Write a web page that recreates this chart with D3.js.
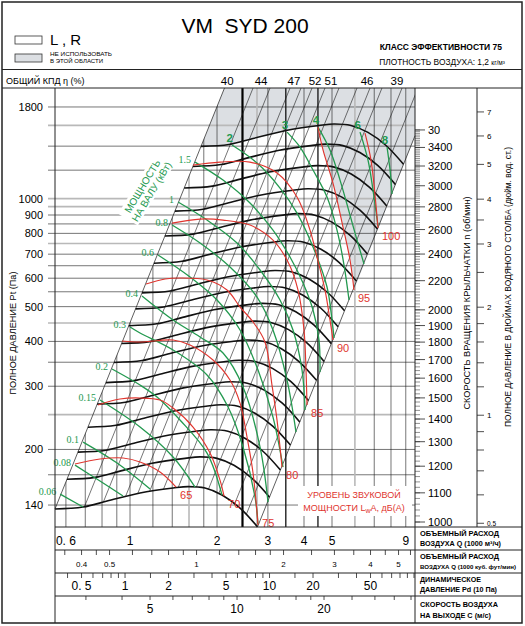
<!DOCTYPE html>
<html>
<head>
<meta charset="utf-8">
<script src="https://cdn.jsdelivr.net/npm/d3@7"></script>
<style>
  body { margin: 0; background: #fff; }
  text { font-family: "Liberation Sans", Arial, sans-serif; }
</style>
</head>
<body>
<svg id="vis" width="525" height="626"></svg>
<script>
// ---- data ----
// flow Q in 1000 m3/h, total pressure Pt in Pa
const pressureLabels = [1800, 1000, 900, 800, 700, 600, 500, 400, 300, 200, 140];
const pressureGrid = [1800, 1400, 1200, 900, 850, 800, 700, 650, 600, 550, 500, 400, 350, 300, 200, 170, 140];
const pressureGridLight = [1600, 1000, 950, 750, 450, 250];
const flowGrid = [0.6, 0.7, 0.8, 0.9, 1, 1.2, 1.4, 1.8, 2, 3, 4, 5, 7, 8, 9];
const flowGridLight = [1.6, 2.75, 6];
const flowGridBold = [2.45];
const flowGridMedium = [3.46, 4.47];

// fan curve at 1000 rpm
const fanCurve1000 = [[0.550, 136.5], [0.688, 138.2], [0.833, 143.6], [1.083, 151.2], [1.409, 156.1],
  [1.587, 157.6], [1.818, 156.1], [2.081, 149.3], [2.403, 137.3], [2.762, 121.7]];
const rpmCurves = [1000, 1100, 1200, 1300, 1400, 1500, 1600, 1700, 1800, 1900, 2000, 2200, 2400, 2600, 2800, 3000, 3200];

// system lines, flow at 1000 Pa
const systemLinesQ = [1.869, 2.140, 2.509, 2.739, 2.990, 3.316, 3.708, 4.280, 4.746, 5.222, 6.127, 6.957];

// efficiency % along the top
const effValues = [40, 44, 47, 52, 51, 46, 39];
const effQ = [2.17, 2.84, 3.69, 4.37, 4.96, 6.61, 8.39];

// shaft power lines, kW
const powerNames = ["0.06", "0.08", "0.1", "0.15", "0.2", "0.3", "0.4", "0.6", "0.8", "1", "1.5", "2", "3", "4", "6", "8"];
const powerLines = [
  [[0.573, 150.2], [0.688, 138.2]],
  [[0.645, 180.9], [0.787, 163.3], [0.946, 148.3]],
  [[0.688, 209.7], [0.902, 183.3], [1.173, 155.1]],
  [[0.787, 274.6], [1.083, 230.9], [1.409, 190.5], [1.679, 157.1]],
  [[0.866, 335.0], [1.083, 302.3], [1.240, 280.0], [1.489, 241.5], [1.847, 195.4], [2.081, 149.3]],
  [[1.000, 438.7], [1.083, 422.2], [1.409, 378.5], [1.847, 322.4], [2.184, 262.5], [2.460, 203.1], [2.707, 147.4], [2.773, 124.0]],
  [[1.100, 535.2], [1.409, 458.8], [1.747, 411.5], [2.098, 371.2], [2.460, 298.5], [2.818, 203.1], [3.003, 142.7]],
  [[1.250, 696.3], [1.613, 604.6], [2.000, 521.6], [2.403, 430.4], [2.773, 332.9], [3.124, 246.2], [3.384, 178.6]],
  [[1.398, 843.8], [1.747, 751.7], [2.218, 644.7], [2.751, 531.7], [3.124, 430.4], [3.494, 312.2], [3.753, 223.6]],
  [[1.466, 978.1], [1.847, 871.3], [2.346, 751.7], [2.818, 632.4], [3.304, 521.6], [3.664, 430.4], [3.937, 332.9], [4.033, 257.5]],
  [[1.679, 1264], [2.098, 1126], [2.601, 971.7], [3.124, 817.1], [3.578, 687.4], [3.969, 581.8], [4.298, 489.2], [4.508, 403.6], [4.544, 328.6]],
  [[2.254, 1410], [2.751, 1256], [3.304, 1070], [3.783, 911.3], [4.298, 733.0], [4.805, 567.0], [5.000, 458.8], [5.080, 408.8]],
  [[3.494, 1532], [3.875, 1392], [4.298, 1201], [4.805, 1010], [5.203, 817.1], [5.502, 653.0], [5.726, 521.6]],
  [[4.473, 1582], [4.920, 1366], [5.330, 1126], [5.771, 899.7], [6.103, 766.3], [6.452, 657.2]],
  [[6.250, 1532], [6.661, 1280], [6.931, 1056], [7.213, 838.4]],
  [[7.752, 1392], [7.940, 1201], [8.067, 1030]]
];

// sound power lines, dB(A)
const soundNames = ["65", "70", "75", "80", "85", "90", "95", "100"];
const soundLines = [
  [[0.645, 182.1], [0.787, 188.1], [0.946, 189.3], [1.083, 184.5], [1.270, 173.0], [1.443, 157.1]],
  [[0.775, 265.9], [0.923, 276.4], [1.083, 278.2], [1.270, 274.6], [1.409, 260.8], [1.652, 230.9], [1.892, 195.4], [2.048, 164.3], [2.115, 148.3]],
  [[0.938, 401.0], [1.083, 398.4], [1.409, 403.6], [1.613, 390.8], [1.937, 354.9], [2.218, 312.2], [2.403, 269.3], [2.540, 216.6], [2.665, 171.9], [2.773, 123.2]],
  [[1.136, 578.0], [1.322, 596.9], [1.489, 600.7], [1.847, 593.1], [2.166, 556.2], [2.403, 498.6], [2.665, 453.0], [2.931, 398.4], [3.099, 302.3], [3.226, 241.5], [3.357, 178.6]],
  [[1.398, 854.7], [1.747, 876.9], [2.098, 871.3], [2.601, 843.8], [3.124, 766.3], [3.522, 665.7], [3.814, 556.2], [4.000, 430.4], [4.064, 332.9], [4.097, 265.9]],
  [[1.652, 1240], [2.048, 1264], [2.601, 1264], [3.226, 1178], [3.783, 1010], [4.196, 817.1], [4.437, 687.4], [4.729, 556.2], [4.920, 458.8], [5.039, 403.6]],
  [[4.473, 1582], [4.654, 1366], [5.039, 1105], [5.458, 833.0], [5.771, 674.4], [5.958, 556.2]],
  [[6.503, 1522], [6.822, 1280], [7.043, 1023], [7.213, 827.7]]
];

// side and bottom scales
const rpmLabels = [1000, 1100, 1200, 1300, 1400, 1500, 1600, 1700, 1800, 1900, 2000, 2200, 2400, 2600, 2800, 3000, 3200, 3400];
const rpmTop = ["30", 3600];
const inchTicks = [0.5, 0.6, 0.7, 0.8, 0.9, 1, 1.2, 1.4, 1.6, 1.8, 2, 2.5, 3, 3.5, 4, 5, 6, 7];
const inchLabels = [0.5, 1, 2, 3, 4, 5, 6, 7];
const flowLabels = [0.6, 1, 2, 3, 4, 5, 9];
const cfmTicks = [0.35, 0.4, 0.45, 0.5, 0.6, 0.7, 0.8, 0.9, 1, 1.2, 1.4, 1.6, 1.8, 2, 2.5, 3, 3.5, 4, 4.5, 5, 5.5];
const cfmLabels = [0.4, 0.5, 1, 2, 3, 4, 5];
const pdTicks = [0.4, 0.5, 0.6, 0.7, 0.8, 0.9, 1, 1.5, 2, 3, 4, 5, 6, 7, 8, 9, 10, 15, 20, 30, 40, 50, 60, 70, 80, 90, 100];
const pdLabels = [0.5, 1, 2, 5, 10, 20, 50];
const velTicks = [3, 4, 5, 6, 7, 8, 9, 10, 12, 14, 16, 18, 20, 25, 30, 35, 40];
const velLabels = [5, 10, 20];

const GREEN = "#23994f", RED = "#e0352e", GRAYFILL = "#dcdfe3";

const svg = d3.select("#vis");
svg.append("rect").attr("width", 525).attr("height", 626).attr("fill", "#fff");

const x = d3.scaleLog().domain([0.55, 9.686]).range([55, 415]);
const y = d3.scaleLog().domain([121.6, 2033]).range([527, 88]);
const yRpm = d3.scaleLog().domain([1000, 3200]).range([522, 166]);
const xCfm = d3.scaleLog().domain([0.55 / 1.699, 9.686 / 1.699]).range([55, 415]);
const xPd = d3.scaleLog().domain([(0.55 / 0.961) ** 2, (9.686 / 0.961) ** 2]).range([55, 415]);
const xVel = d3.scaleLog().domain([0.55 * 4.263, 9.686 * 4.263]).range([55, 415]);

const smooth = d3.line().x(d => x(d[0])).y(d => y(d[1])).curve(d3.curveCatmullRom.alpha(0.5));
const straight = d3.line().x(d => x(d[0])).y(d => y(d[1]));

const [qMin, qMax] = x.domain();
const pTop = y.domain()[1];
const s0 = fanCurve1000[0], e0 = fanCurve1000[fanCurve1000.length - 1];
const kStall = s0[1] / (s0[0] * s0[0]);
const kRight = e0[1] / (e0[0] * e0[0]);
const qStallTop = Math.sqrt(pTop / kStall);
const pRightEdge = kRight * qMax * qMax;

const atRpm = n => fanCurve1000.map(([q, p]) => [q * n / 1000, p * (n / 1000) ** 2]);

function seg(g, x1, y1, x2, y2, color, w) {
  return g.append("line").attr("x1", x1).attr("y1", y1).attr("x2", x2).attr("y2", y2)
    .attr("stroke", color).attr("stroke-width", w);
}

// clip paths
const defs = svg.append("defs");
defs.append("clipPath").attr("id", "fanClip").append("path")
  .attr("d", smooth(fanCurve1000) + `L${x(qMax)},${y(pRightEdge)}L${x(qMax)},${y(pTop)}L${x(qStallTop)},${y(pTop)}Z`);
defs.append("clipPath").attr("id", "gridClip").append("path")
  .attr("d", `M${x(s0[0])},${y(s0[1])}L${x(qStallTop)},${y(pTop)}L415,88L415,527L55,527Z`);

// gray "do not use" area
const topCurve = atRpm(rpmCurves[rpmCurves.length - 1]);
const grayPts = [[qStallTop, pTop], ...topCurve.slice(0, 5), ...soundLines[6].slice(1), [qMax, pRightEdge], [qMax, pTop]];
svg.append("path").attr("d", straight(grayPts) + "Z").attr("fill", GRAYFILL);

// horizontal grid
const grid = svg.append("g");
pressureGridLight.forEach(p => seg(grid, 48, y(p), 415, y(p), "#b9b9b9", 1.6));
pressureGrid.forEach(p => seg(grid, 48, y(p), 415, y(p), "#1a1a1a", 0.6));

// vertical grid (only right of the stall line)
const vgrid = svg.append("g").attr("clip-path", "url(#gridClip)");
flowGridLight.forEach(q => seg(vgrid, x(q), 88, x(q), 527, "#b9b9b9", 1.6));
flowGrid.forEach(q => seg(vgrid, x(q), 88, x(q), 527, "#1a1a1a", 0.6));
flowGridMedium.forEach(q => seg(vgrid, x(q), 88, x(q), 527, "#111", 1.3));
flowGridBold.forEach(q => seg(vgrid, x(q), 88, x(q), 527, "#000", 2.2));

// system resistance lines
const sys = svg.append("g").attr("clip-path", "url(#fanClip)");
systemLinesQ.forEach(q => {
  const k = 1000 / (q * q);
  const qa = Math.sqrt(100 / k), qb = Math.sqrt(2100 / k);
  seg(sys, x(qa), y(k * qa * qa), x(qb), y(k * qb * qb), "#1a1a1a", 0.6);
});
seg(svg, x(s0[0]), y(s0[1]), x(qStallTop), y(pTop), "#1a1a1a", 0.7);
seg(svg, x(e0[0]), y(e0[1]), x(qMax), y(pRightEdge), "#1a1a1a", 0.7);

// white backgrounds behind labels
svg.append("rect").attr("x", 298).attr("y", 486).attr("width", 114).attr("height", 30).attr("fill", "#fff");
const powerTitle = svg.append("g").attr("transform", "translate(147,189) rotate(-59)");
powerTitle.append("rect").attr("x", -36).attr("y", -12).attr("width", 72).attr("height", 23).attr("fill", "#fff");
powerTitle.append("text").attr("x", 0).attr("y", -1.8).attr("text-anchor", "middle")
  .attr("font-size", 10).attr("fill", GREEN).text("МОЩНОСТЬ");
powerTitle.append("text").attr("x", 0).attr("y", 8.8).attr("text-anchor", "middle")
  .attr("font-size", 10).attr("fill", GREEN).text("НА ВАЛУ (кВт)");

// fan curves
svg.append("g").selectAll("path").data(rpmCurves).join("path")
  .attr("d", n => smooth(atRpm(n)))
  .attr("fill", "none").attr("stroke", "#111").attr("stroke-width", 1.6);

// power and sound lines
svg.append("g").selectAll("path").data(powerLines).join("path")
  .attr("d", smooth).attr("fill", "none").attr("stroke", GREEN).attr("stroke-width", 1.3);
svg.append("g").selectAll("path").data(soundLines).join("path")
  .attr("d", smooth).attr("fill", "none").attr("stroke", RED).attr("stroke-width", 1.15);

// power labels
powerLines.forEach((line, i) => {
  const [q, p] = line[0];
  const big = parseFloat(powerNames[i]) >= 2;
  svg.append("text")
    .attr("x", big ? x(q) + 1 : x(q) - 4)
    .attr("y", big ? y(p) - 3 : y(p) + 1)
    .attr("text-anchor", "end")
    .attr("font-size", big ? 11.5 : 10)
    .attr("font-weight", big ? "bold" : "normal")
    .style("font-family", big ? "'Liberation Sans', Arial, sans-serif" : "'Liberation Serif', 'Times New Roman', serif")
    .attr("fill", GREEN).text(powerNames[i]);
});

// sound labels
soundLines.forEach((line, i) => {
  const [q, p] = line[line.length - 1];
  svg.append("text")
    .attr("x", x(q) + 4).attr("y", Math.min(y(p) + 12, 527))
    .attr("font-size", 11).attr("fill", RED).text(soundNames[i]);
});
const snd = svg.append("g").attr("fill", RED).attr("font-size", 9).attr("text-anchor", "middle");
snd.append("text").attr("x", 354).attr("y", 498).text("УРОВЕНЬ ЗВУКОВОЙ");
const sndLine2 = snd.append("text").attr("x", 354).attr("y", 511);
sndLine2.append("tspan").text("МОЩНОСТИ L");
sndLine2.append("tspan").attr("font-size", 7).attr("dy", 2).text("w");
sndLine2.append("tspan").attr("dy", -2).text("A, дБ(А)");

// ---- frame and table ----
const frame = svg.append("g");
frame.append("rect").attr("x", 2).attr("y", 2).attr("width", 520).attr("height", 621)
  .attr("fill", "none").attr("stroke", "#222").attr("stroke-width", 1.5);
seg(frame, 2, 69.5, 522, 69.5, "#222", 1);
seg(frame, 2, 88, 522, 88, "#222", 1);
seg(frame, 55, 88, 55, 623, "#222", 1);
seg(frame, 415, 88, 415, 623, "#222", 1);
seg(frame, 477, 88, 477, 527, "#222", 1);
[527, 550, 573, 596].forEach(v => seg(frame, 55, v, 522, v, "#222", 1));

// header
svg.append("text").attr("x", 245).attr("y", 33).attr("text-anchor", "middle")
  .attr("font-size", 21).style("white-space", "pre").text("VM  SYD 200");
svg.append("rect").attr("x", 15).attr("y", 36).attr("width", 27).attr("height", 8)
  .attr("fill", "#fff").attr("stroke", "#333").attr("stroke-width", 0.8);
svg.append("rect").attr("x", 15).attr("y", 54).attr("width", 27).attr("height", 8)
  .attr("fill", GRAYFILL).attr("stroke", "#333").attr("stroke-width", 0.8);
svg.append("text").attr("x", 50).attr("y", 45).attr("font-size", 15).text("L , R");
svg.append("text").attr("x", 50).attr("y", 55.5).attr("font-size", 6)
  .attr("textLength", 62).attr("lengthAdjust", "spacingAndGlyphs").text("НЕ ИСПОЛЬЗОВАТЬ");
svg.append("text").attr("x", 50).attr("y", 63).attr("font-size", 6)
  .attr("textLength", 53).attr("lengthAdjust", "spacingAndGlyphs").text("В ЭТОЙ ОБЛАСТИ");
svg.append("text").attr("x", 502).attr("y", 49.8).attr("text-anchor", "end")
  .attr("font-size", 8.5).attr("font-weight", "bold").text("КЛАСС ЭФФЕКТИВНОСТИ 75");
const dens = svg.append("text").attr("x", 505).attr("y", 64.5).attr("text-anchor", "end").attr("font-size", 8.4);
dens.append("tspan").text("ПЛОТНОСТЬ ВОЗДУХА: 1,2 ");
dens.append("tspan").attr("font-size", 6.5).text("кг/м³");

svg.append("text").attr("x", 6).attr("y", 83.5).attr("font-size", 9).text("ОБЩИЙ КПД η (%)");
effValues.forEach((v, i) => {
  svg.append("text").attr("x", x(effQ[i])).attr("y", 84.5).attr("text-anchor", "middle")
    .attr("font-size", 11.5).text(v);
});

// left pressure axis
pressureLabels.forEach(p => {
  svg.append("text").attr("x", 43).attr("y", y(p) + 4).attr("text-anchor", "end")
    .attr("font-size", 11).text(p);
});
svg.append("text").attr("transform", "translate(16,333) rotate(-90)").attr("text-anchor", "middle")
  .attr("font-size", 9).attr("textLength", 123).attr("lengthAdjust", "spacingAndGlyphs")
  .text("ПОЛНОЕ ДАВЛЕНИЕ Pt (Па)");

// rpm axis
const rpmAxis = svg.append("g");
d3.range(1000, 3601, 20).forEach(n => seg(rpmAxis, 415, yRpm(n), 420, yRpm(n), "#222", 0.5));
rpmLabels.concat([rpmTop[1]]).forEach(n => seg(rpmAxis, 415, yRpm(n), 425, yRpm(n), "#222", 0.8));
rpmLabels.forEach(n => {
  rpmAxis.append("text").attr("x", 428).attr("y", yRpm(n) + 4).attr("font-size", 11).text(n);
});
rpmAxis.append("text").attr("x", 428).attr("y", yRpm(rpmTop[1]) + 4).attr("font-size", 11).text(rpmTop[0]);
svg.append("text").attr("transform", "translate(470,303) rotate(-90)").attr("text-anchor", "middle")
  .attr("font-size", 9).attr("textLength", 213).attr("lengthAdjust", "spacingAndGlyphs")
  .text("СКОРОСТЬ ВРАЩЕНИЯ КРЫЛЬЧАТКИ  n (об/мин)");

// inch water column axis
const inchAxis = svg.append("g");
inchTicks.forEach(v => seg(inchAxis, 477, y(v * 249.09), 484, y(v * 249.09), "#222", 0.8));
inchLabels.forEach(v => {
  inchAxis.append("text").attr("x", 487).attr("y", y(v * 249.09) + 3)
    .attr("font-size", v < 1 ? 6.5 : 8).text(v);
});
svg.append("text").attr("transform", "translate(511,287) rotate(-90)").attr("text-anchor", "middle")
  .attr("font-size", 8.5).attr("textLength", 280).attr("lengthAdjust", "spacingAndGlyphs")
  .text("ПОЛНОЕ ДАВЛЕНИЕ В ДЮЙМАХ ВОДЯНОГО СТОЛБА (дюйм. вод. ст.)");

// bottom scales
const spaced = d => d < 1 ? "0. " + String(d).slice(2) : String(d);
const bottom = svg.append("g");
flowLabels.forEach(q => {
  bottom.append("text").attr("x", x(q)).attr("y", 545).attr("text-anchor", "middle")
    .attr("font-size", 12).style("white-space", "pre").text(spaced(q));
});
cfmTicks.forEach(v => seg(bottom, xCfm(v), 550, xCfm(v), 555, "#222", 0.8));
cfmLabels.forEach(v => {
  bottom.append("text").attr("x", xCfm(v)).attr("y", 567).attr("text-anchor", "middle")
    .attr("font-size", 8).text(v);
});
pdTicks.forEach(v => seg(bottom, xPd(v), 573, xPd(v), 578, "#222", 0.8));
pdLabels.forEach(v => {
  bottom.append("text").attr("x", xPd(v)).attr("y", 590).attr("text-anchor", "middle")
    .attr("font-size", 12).style("white-space", "pre").text(spaced(v));
});
velTicks.forEach(v => seg(bottom, xVel(v), 596, xVel(v), 600, "#222", 0.8));
velLabels.forEach(v => {
  bottom.append("text").attr("x", xVel(v)).attr("y", 613).attr("text-anchor", "middle")
    .attr("font-size", 12).text(v);
});

const rowNames = [
  ["ОБЪЕМНЫЙ РАСХОД", "ВОЗДУХА Q (1000 м³/ч)", 79, 81],
  ["ОБЪЕМНЫЙ РАСХОД", "ВОЗДУХА Q (1000 куб. фут/мин)", 79, 96],
  ["ДИНАМИЧЕСКОЕ", "ДАВЛЕНИЕ Pd (10 Па)", 61, 77],
  ["СКОРОСТЬ ВОЗДУХА", "НА ВЫХОДЕ C (м/с)", 78, 71]
];
const rowBase = [[536, 546], [559, 569], [582, 592], [607, 618]];
rowNames.forEach((r, i) => {
  [0, 1].forEach(j => {
    svg.append("text").attr("x", 420).attr("y", rowBase[i][j])
      .attr("font-size", j === 1 && i === 1 ? 6 : 7)
      .attr("font-weight", "bold").attr("textLength", r[2 + j]).attr("lengthAdjust", "spacingAndGlyphs")
      .text(r[j]);
  });
});
</script>
</body>
</html>
